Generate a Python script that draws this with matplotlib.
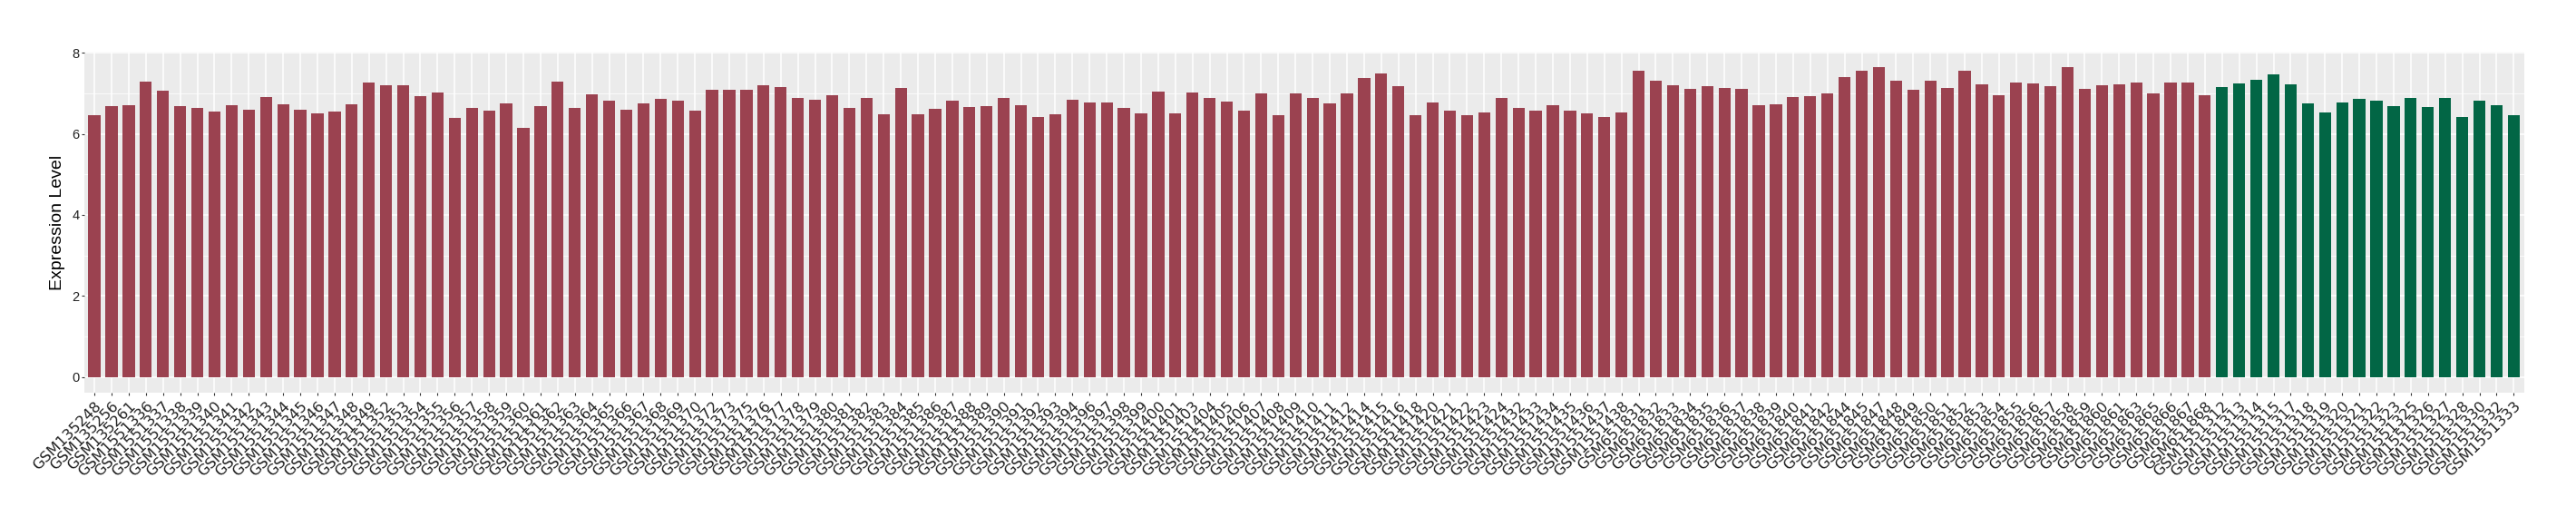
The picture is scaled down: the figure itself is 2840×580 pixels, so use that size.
import numpy as np
import matplotlib
matplotlib.use("Agg")
import matplotlib.pyplot as plt
from matplotlib.ticker import MultipleLocator

# sample names (red group, then green group)
red_samples = ["GSM135248", "GSM135256", "GSM135261"] + \
    ["GSM15513%02d" % i for i in range(36, 50)] + \
    ["GSM15513%02d" % i for i in range(52, 71)] + \
    ["GSM1551372", "GSM1551373"] + \
    ["GSM15513%02d" % i for i in range(75, 95)] + \
    ["GSM1551396", "GSM1551397", "GSM1551398", "GSM1551399", "GSM1551400", "GSM1551401"] + \
    ["GSM15514%02d" % i for i in range(3, 13)] + \
    ["GSM1551414", "GSM1551415", "GSM1551416", "GSM1551418"] + \
    ["GSM15514%02d" % i for i in range(20, 25)] + \
    ["GSM15514%02d" % i for i in range(32, 39)] + \
    ["GSM6518%02d" % i for i in range(31, 43)] + \
    ["GSM651844", "GSM651845"] + \
    ["GSM6518%02d" % i for i in range(47, 62)] + \
    ["GSM651863", "GSM651865", "GSM651866", "GSM651867", "GSM651868"]

green_samples = ["GSM1551312", "GSM1551313", "GSM1551314", "GSM1551315",
                 "GSM1551317", "GSM1551318", "GSM1551319", "GSM1551320",
                 "GSM1551321", "GSM1551322", "GSM1551323", "GSM1551325",
                 "GSM1551326", "GSM1551327", "GSM1551328", "GSM1551330",
                 "GSM1551332", "GSM1551333"]

red_values = [6.46, 6.69, 6.70, 7.29, 7.07, 6.69, 6.64, 6.55, 6.70, 6.60,
              6.91, 6.73, 6.60, 6.50, 6.55, 6.73, 7.26, 7.20, 7.20, 6.93,
              7.02, 6.40, 6.64, 6.57, 6.75, 6.15, 6.69, 7.29, 6.64, 6.98,
              6.82, 6.60, 6.75, 6.86, 6.82, 6.57, 7.08, 7.08, 7.08, 7.20,
              7.15, 6.88, 6.84, 6.95, 6.64, 6.88, 6.48, 7.13, 6.48, 6.62,
              6.82, 6.66, 6.69, 6.88, 6.70, 6.41, 6.48, 6.84, 6.78, 6.78,
              6.64, 6.50, 7.04, 6.50, 7.02, 6.88, 6.79, 6.57, 7.00, 6.46,
              7.00, 6.88, 6.75, 7.00, 7.38, 7.49, 7.17, 6.46, 6.78, 6.57,
              6.46, 6.53, 6.88, 6.64, 6.57, 6.70, 6.57, 6.50, 6.41, 6.53,
              7.55, 7.31, 7.20, 7.11, 7.17, 7.13, 7.11, 6.70, 6.73, 6.91,
              6.93, 7.00, 7.40, 7.55, 7.64, 7.31, 7.08, 7.31, 7.13, 7.55,
              7.22, 6.95, 7.26, 7.24, 7.17, 7.64, 7.11, 7.20, 7.22, 7.26,
              7.00, 7.26, 7.26, 6.95]

green_values = [7.15, 7.24, 7.33, 7.46, 7.22, 6.75, 6.53, 6.78, 6.86, 6.82,
                6.69, 6.88, 6.66, 6.88, 6.41, 6.82, 6.70, 6.46]

red_color = "#9B4250"
green_color = "#026645"

samples = red_samples + green_samples
values = red_values + green_values
colors = [red_color] * len(red_samples) + [green_color] * len(green_samples)
n = len(samples)

W, H = 2840, 580
fig = plt.figure(figsize=(W / 100, H / 100), dpi=100)
left, right, top, bottom = 92.7, 2782.7, 57.3, 432.7
ax = fig.add_axes([left / W, (H - bottom) / H, (right - left) / W, (bottom - top) / H])

x = np.arange(n)
ax.bar(x, values, width=0.7, color=colors, zorder=3)

ymax = max(values)
ax.set_ylim(-0.05 * ymax, 1.05 * ymax)
ax.set_xlim(-0.6, n - 1 + 0.6)

ax.set_facecolor("#EBEBEB")
for s in ax.spines.values():
    s.set_visible(False)

ax.yaxis.set_major_locator(MultipleLocator(2))
ax.yaxis.set_minor_locator(MultipleLocator(1))
ax.grid(which="major", color="white", linewidth=1.1, zorder=0)
ax.grid(which="minor", axis="y", color="white", linewidth=0.55, zorder=0)
ax.set_axisbelow(True)

ax.set_xticks(x)
ax.set_xticklabels(samples, rotation=45, ha="right", va="top",
                   rotation_mode="anchor", fontsize=11.8,
                   family="DejaVu Sans", color="#222222")
ax.tick_params(axis="x", length=2.4, width=0.8, color="#333333", pad=3)
ax.tick_params(axis="y", which="major", length=2.4, width=0.8, color="#333333",
               pad=1.5, labelsize=10.5, labelcolor="#222222")
ax.tick_params(axis="y", which="minor", length=0)
for lab in ax.get_yticklabels():
    lab.set_family("Liberation Sans")

ax.set_ylabel("Expression Level", fontsize=14, family="Liberation Sans",
              labelpad=5)

fig.savefig("out.png", dpi=100)
